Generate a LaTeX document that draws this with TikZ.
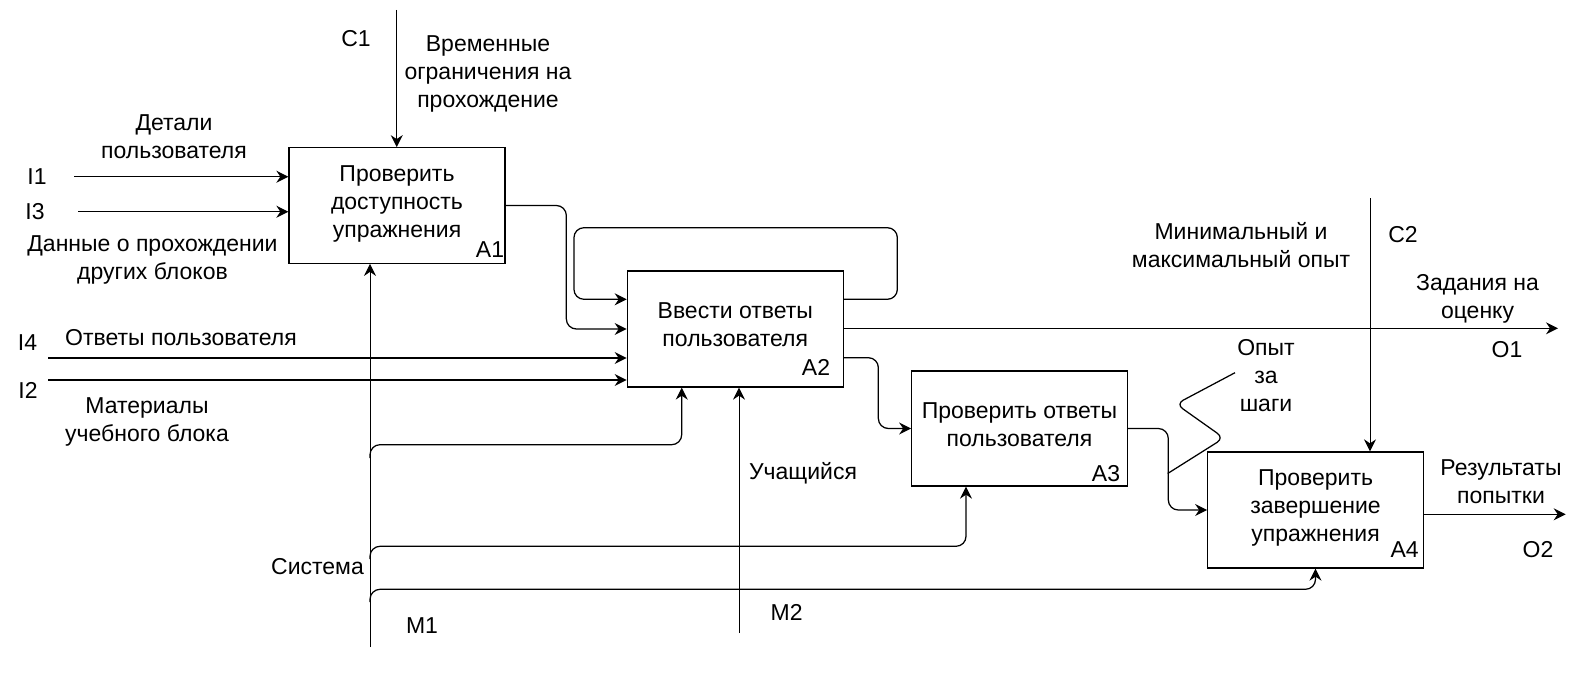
\documentclass[tikz,border=0pt]{standalone}
\usepackage{fontspec}
\setmainfont{Liberation Sans}
\usetikzlibrary{arrows.meta,calc}
\begin{document}
\begin{tikzpicture}[x=1pt,y=-1pt,
  font=\fontsize{23}{28}\selectfont,
  box/.style={draw, line width=1.3pt, align=center, inner sep=0pt,
    execute at begin node=\strut, execute at end node=\strut},
  lbl/.style={align=center, inner sep=0pt,
    execute at begin node=\strut, execute at end node=\strut},
  code/.style={inner sep=0pt},
  tip/.style={-{Stealth[length=12pt,width=12pt,inset=4pt]}},
  arr/.style={tip, line width=1.25pt, rounded corners=10pt},
  thinarr/.style={tip, line width=1pt},
  plain/.style={line width=1.25pt, rounded corners=8pt}]
\useasboundingbox (0,0) rectangle (1590,677);

% boxes
\node[box, minimum width=216pt, minimum height=115.5pt] (A1) at (397,205.5) {Проверить\\доступность\\упражнения};
\node[box, minimum width=216pt, minimum height=116pt] (A2) at (735.3,329) {Ввести ответы\\пользователя};
\node[box, minimum width=215.5pt, minimum height=115pt] (A3) at (1019.5,428.5) {Проверить ответы\\пользователя};
\node[box, minimum width=215.5pt, minimum height=116pt] (A4) at (1315.5,510) {Проверить\\завершение\\упражнения};
\node[code] (A1t) at (490,250) {A1};
\node[code] (A2t) at (816,367) {A2};
\node[code] (A3t) at (1106,474) {A3};
\node[code] (A4t) at (1404.7,550) {A4};

% free ends
\coordinate (c1) at (396.7,10);
\coordinate (i1) at (74,176.7);
\coordinate (i3) at (78,211.7);
\coordinate (i4) at (48,358);
\coordinate (i2) at (48,380);
\coordinate (o1) at (1558,328.3);
\coordinate (o2) at (1565.7,514.3);
\coordinate (c2) at (1370,198);
\coordinate (m1) at (370,647);
\coordinate (m2) at (739,633);
\coordinate (b1) at (370,458);
\coordinate (b2) at (370,559);
\coordinate (b3) at (370,602);
\coordinate (sq) at (1167.7,473.5);

% labels
\node[code] (lc1) at (356,39) {C1};
\node[lbl] (lc1t) at (488,76) {Временные\\ограничения на\\прохождение};
\node[lbl] (li1t) at (174,141) {Детали\\пользователя};
\node[code] (li1) at (37,177) {I1};
\node[code] (li3) at (35,212) {I3};
\node[lbl] (li3t) at (152.5,261.5) {Данные о прохождении\\других блоков};
\node[code] (li4) at (27.5,343) {I4};
\node[lbl] (li4t) at (181,340) {Ответы пользователя};
\node[code] (li2) at (28,390) {I2};
\node[lbl] (li2t) at (147,424) {Материалы\\учебного блока};
\node[lbl] (lc2t) at (1241,249) {Минимальный и\\максимальный опыт};
\node[code] (lc2) at (1403,235) {C2};
\node[lbl] (lo1t) at (1477.5,301) {Задания на\\оценку};
\node[code] (lo1) at (1507,350) {O1};
\node[lbl] (lsq) at (1266,380) {Опыт\\за\\шаги};
\node[lbl] (lo2t) at (1501,485.5) {Результаты\\попытки};
\node[code] (lo2) at (1538,550) {O2};
\node[lbl] (lm2t) at (803,474) {Учащийся};
\node[code] (lm2) at (786.7,612) {M2};
\node[lbl] (lm1t) at (317.5,568.7) {Система};
\node[code] (lm1) at (422,626) {M1};

% connectors
\draw[thinarr] (c1) -- (c1 |- A1.north);
\draw[arr] (i1) -- (i1 -| A1.west);
\draw[arr] (i3) -- (i3 -| A1.west);
\draw[arr] (i4) -- (i4 -| A2.west);
\draw[arr] (i2) -- (i2 -| A2.west);
\draw[arr] (A1.east) -- ++(60.7,0) |- (A2.west);
\draw[arr] ($(A2.east)+(0,-29.7)$) -- ++(53.4,0) -- ++(0,-71.6) -- ++(-323.4,0) -- ++(0,71.6) -- ($(A2.west)+(0,-29.7)$);
\draw[arr] ($(A2.east)+(0,-0.7)$) -- (o1);
\draw[arr] ($(A2.east)+(0,28.7)$) -- ++(34.4,0) |- (A3.west);
\draw[arr] (A3.east) -- ++(40.4,0) |- (A4.west);
\draw[arr] ($(A4.east)+(0,4.3)$) -- (o2);
\draw[thinarr] (c2) -- (c2 |- A4.north);
\draw[thinarr] (m1) -- (m1 |- A1.south);
\draw[thinarr] (m2) -- (m2 |- A2.south);
\draw[arr] (b1) -- ++(0,-13.3) -| ($(A2.south)+(-53.6,0)$);
\draw[arr] (b2) -- ++(0,-12.7) -| ($(A3.south)+(-53.5,0)$);
\draw[arr] (b3) -- ++(0,-12.7) -| (A4.south);
\draw[plain] (sq) -- (1224,438) -- (1176,404) -- (1235,372.7);
\end{tikzpicture}
\end{document}
